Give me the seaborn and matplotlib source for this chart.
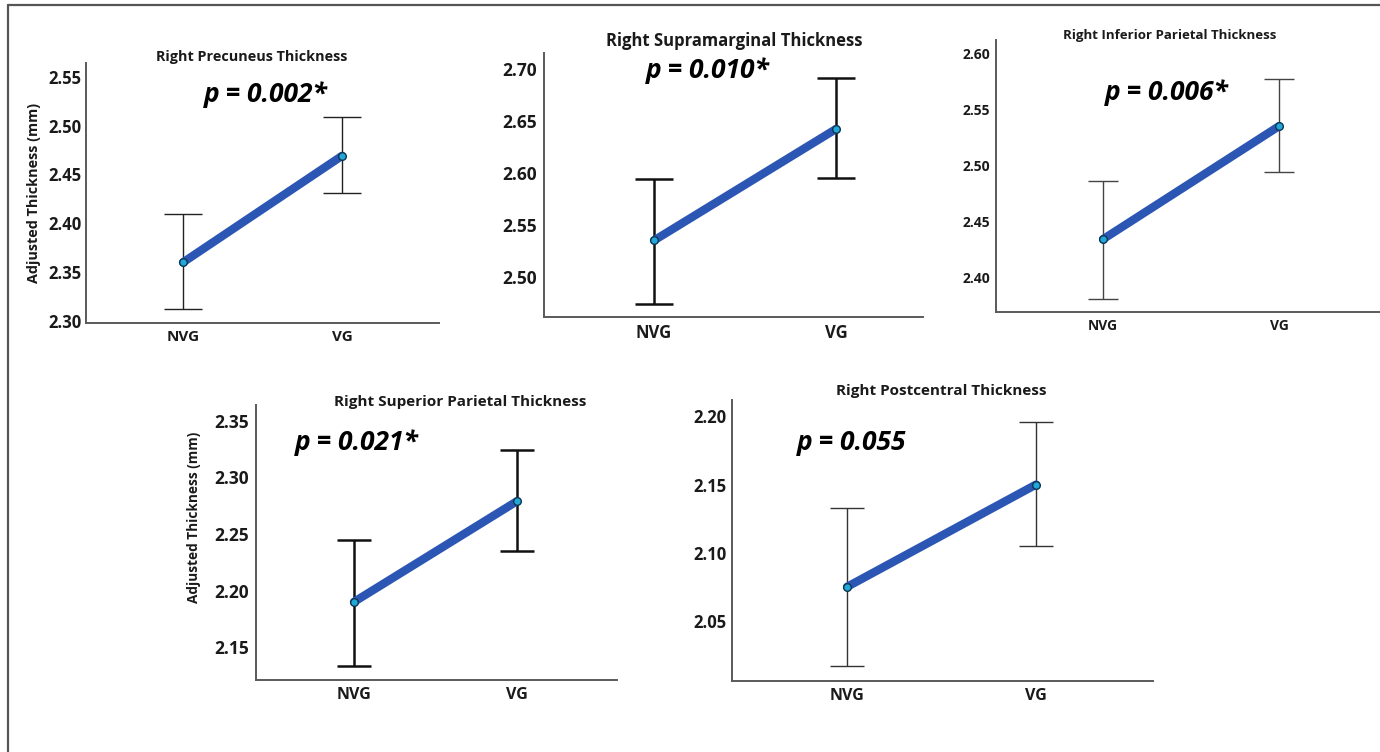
import numpy as np
import pandas as pd
import matplotlib
matplotlib.use("Agg")
import matplotlib.pyplot as plt
import seaborn as sns
from matplotlib.lines import Line2D

# Data (group means with error bars)
groups = ["NVG", "VG"]
titles = [
    "Right Precuneus Thickness",
    "Right Supramarginal Thickness",
    "Right Inferior Parietal Thickness",
    "Right Superior Parietal Thickness",
    "Right Postcentral Thickness",
]
p_labels = ["p = 0.002*", "p = 0.010*", "p = 0.006*", "p = 0.021*", "p = 0.055"]

means = [[2.360, 2.469], [2.535, 2.642], [2.434, 2.535], [2.190, 2.279], [2.075, 2.150]]
ci_low = [[2.312, 2.431], [2.474, 2.595], [2.381, 2.494], [2.133, 2.235], [2.017, 2.105]]
ci_high = [[2.410, 2.509], [2.594, 2.691], [2.486, 2.577], [2.245, 2.324], [2.133, 2.196]]

y_limits = [(2.298, 2.564), (2.4615, 2.715), (2.369, 2.612), (2.121, 2.364), (2.006, 2.212)]
y_ticks = [
    [2.30, 2.35, 2.40, 2.45, 2.50, 2.55],
    [2.50, 2.55, 2.60, 2.65, 2.70],
    [2.40, 2.45, 2.50, 2.55, 2.60],
    [2.15, 2.20, 2.25, 2.30, 2.35],
    [2.05, 2.10, 2.15, 2.20],
]

# Layout (pixels in a 1380x752 canvas)
W, H = 1380, 752
# x0, x1, ytop, ybottom of each axes box
boxes = [(86, 439, 63, 323), (544, 923, 53, 317), (996, 1380, 40, 312),
         (256, 617, 405, 680), (732, 1153, 400, 681)]
# pixel x of NVG and VG points
cat_px = [(183, 342), (654, 836), (1103, 1279), (354, 517), (847, 1036)]
title_pos = [(252, 57), (734, 41), (1170, 35), (460, 402), (941, 391)]
title_size = [10.4, 12.0, 9.5, 11.0, 11.0]
p_pos = [(266, 94), (708, 70), (1167, 93), (357, 443), (852, 443)]
tick_size = [12, 12.5, 10, 12.5, 12]
xtick_size = [11, 12, 10, 11.5, 11.5]
y_pad = [3, 5, 4, 5, 4]
err_width = [1.0, 1.8, 1.0, 1.8, 1.0]
err_color = ["#222222", "#111111", "#444444", "#111111", "#333333"]
cap_len = [27, 27, 22, 25, 25]
ylabel_panels = {0: (-0.128, 0.50, 10.4), 3: (-0.152, 0.593, 9.8)}

line_color = "#2c56b4"
marker_face = "#22a8d8"
spine_color = "#5a5a5a"

sns.set_theme(style="white")
plt.rcParams["font.family"] = ["Open Sans", "DejaVu Sans"]

fig = plt.figure(figsize=(W / 100, H / 100), dpi=100)


def fx(x):
    return x / W


def fy(y):
    return 1 - y / H


for i in range(5):
    x0, x1, yt, yb = boxes[i]
    ax = fig.add_axes([fx(x0), fy(yb), (x1 - x0) / W, (yb - yt) / H])

    df = pd.DataFrame({
        "group": groups,
        "mean": means[i],
        "low": ci_low[i],
        "high": ci_high[i],
    })

    # error bars underneath
    yerr = [df["mean"] - df["low"], df["high"] - df["mean"]]
    ax.errorbar(x=[0, 1], y=df["mean"], yerr=yerr, fmt="none",
                ecolor=err_color[i], elinewidth=err_width[i],
                capsize=cap_len[i] / 2, capthick=err_width[i], zorder=2)

    sns.pointplot(data=df, x="group", y="mean", order=groups, errorbar=None,
                  color=line_color, linewidth=6, markers="o", markersize=5.5,
                  markerfacecolor=marker_face, markeredgecolor="#0d3550",
                  markeredgewidth=1.0, ax=ax, zorder=3)

    # x scale so that categories land where they sit in the reference
    p0, p1 = cat_px[i]
    unit = p1 - p0
    ax.set_xlim((x0 - p0) / unit, 1 + (x1 - p1) / unit)
    ax.set_ylim(*y_limits[i])
    ax.set_yticks(y_ticks[i])
    ax.set_yticklabels([f"{t:.2f}" for t in y_ticks[i]], fontsize=tick_size[i],
                       fontweight="bold", color="#1a1a1a")
    ax.set_xticks([0, 1])
    ax.set_xticklabels(groups, fontsize=xtick_size[i], fontweight="bold",
                       color="#1a1a1a")
    ax.tick_params(axis="both", length=0)
    ax.tick_params(axis="y", pad=y_pad[i])
    ax.tick_params(axis="x", pad=5)
    ax.set_xlabel("")
    ax.set_ylabel("")
    ax.grid(False)
    for side in ["top", "right"]:
        ax.spines[side].set_visible(False)
    for side in ["left", "bottom"]:
        ax.spines[side].set_color(spine_color)
        ax.spines[side].set_linewidth(1.4)
    ax.patch.set_alpha(0)

    if i in ylabel_panels:
        lx, ly, ls = ylabel_panels[i]
        ax.set_ylabel("Adjusted Thickness (mm)", fontsize=ls, fontweight="bold",
                      color="#1a1a1a")
        ax.yaxis.set_label_coords(lx, ly)

    tx, ty = title_pos[i]
    fig.text(fx(tx), fy(ty), titles[i], ha="center", va="center",
             fontsize=title_size[i], fontweight="bold", color="#1a1a1a")
    px_, py_ = p_pos[i]
    fig.text(fx(px_), fy(py_), p_labels[i], ha="center", va="center",
             fontsize=19, fontweight="bold", fontstyle="italic", color="black")

# partial frame around the composite (left and top edges)
fig.add_artist(Line2D([fx(8), fx(8)], [fy(5), 0], color="#555555", linewidth=1.6))
fig.add_artist(Line2D([fx(8), 1], [fy(5), fy(5)], color="#555555", linewidth=1.6))

fig.savefig("out.png", dpi=100, facecolor="white")
